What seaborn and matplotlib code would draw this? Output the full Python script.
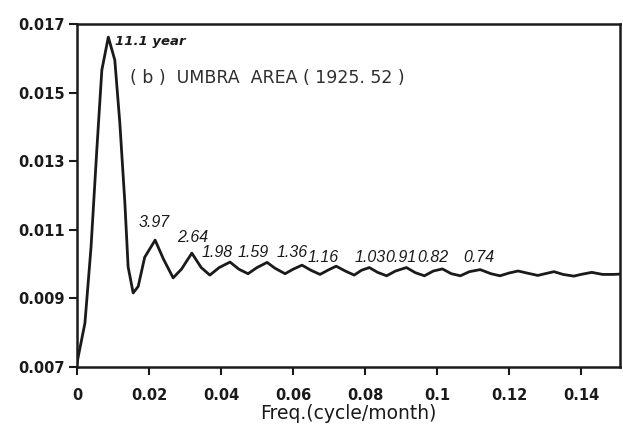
import matplotlib
matplotlib.use("Agg")
import matplotlib.pyplot as plt
import seaborn as sns
import pandas as pd
from matplotlib.ticker import FixedLocator, FixedFormatter

sns.set_theme(style="ticks")
plt.rcParams['font.family'] = ['DejaVu Sans']

freq = [0.0000, 0.0022, 0.0039, 0.0055, 0.0069, 0.0087, 0.0105, 0.0119, 0.0133, 0.0142,
        0.0156, 0.0170, 0.0188, 0.0217, 0.0240, 0.0267, 0.0290, 0.0319, 0.0345, 0.0369,
        0.0395, 0.0425, 0.0450, 0.0475, 0.0500, 0.0528, 0.0550, 0.0578, 0.0600, 0.0625,
        0.0650, 0.0675, 0.0700, 0.0720, 0.0745, 0.0770, 0.0790, 0.0812, 0.0835, 0.0860,
        0.0885, 0.0915, 0.0940, 0.0965, 0.0990, 0.1015, 0.1040, 0.1065, 0.1090, 0.1120,
        0.1150, 0.1175, 0.1200, 0.1225, 0.1250, 0.1280, 0.1300, 0.1325, 0.1350, 0.1380,
        0.1400, 0.1430, 0.1460, 0.1490, 0.1510]
power = [0.00712, 0.00828, 0.01050, 0.01333, 0.01566, 0.01662, 0.01595, 0.01411, 0.01178, 0.00992,
         0.00916, 0.00935, 0.01020, 0.01070, 0.01015, 0.00960, 0.00985, 0.01032, 0.00990, 0.00968,
         0.00990, 0.01006, 0.00985, 0.00972, 0.00990, 0.01005, 0.00988, 0.00972, 0.00985, 0.00997,
         0.00982, 0.00970, 0.00984, 0.00994, 0.00980, 0.00968, 0.00982, 0.00990, 0.00976, 0.00966,
         0.00980, 0.00990, 0.00975, 0.00966, 0.00980, 0.00986, 0.00972, 0.00966, 0.00978, 0.00984,
         0.00972, 0.00966, 0.00974, 0.00980, 0.00974, 0.00967, 0.00972, 0.00978, 0.00970, 0.00965,
         0.00970, 0.00976, 0.00970, 0.00970, 0.00971]

period_labels = ["3.97", "2.64", "1.98", "1.59", "1.36", "1.16", "1.03", "0.91", "0.82", "0.74"]
period_x = [0.0170, 0.0278, 0.0347, 0.0447, 0.0555, 0.0641, 0.0772, 0.0855, 0.0945, 0.1072]
period_y = [0.01122, 0.01077, 0.01035, 0.01035, 0.01035, 0.01020, 0.01020, 0.01020, 0.01020, 0.01020]

peak_label = "11.1 year"
title_text = "( b )  UMBRA  AREA ( 1925. 52 )"

xticks = [0, 0.02, 0.04, 0.06, 0.08, 0.1, 0.12, 0.14]
xtick_labels = ["0", "0.02", "0.04", "0.06", "0.08", "0.1", "0.12", "0.14"]
yticks = [0.007, 0.009, 0.011, 0.013, 0.015, 0.017]
ytick_labels = ["0.007", "0.009", "0.011", "0.013", "0.015", "0.017"]
xlabel = "Freq.(cycle/month)"

df = pd.DataFrame({"freq": freq, "power": power})

fig = plt.figure(figsize=(6.23, 4.30), dpi=100)
ax = fig.add_axes([0.1236, 0.1465, 0.8714, 0.7975])
sns.lineplot(data=df, x="freq", y="power", color="#1a1a1a", linewidth=2.0, ax=ax)

ax.set_xlim(0, 0.1508)
ax.set_ylim(0.007, 0.017)
ax.xaxis.set_major_locator(FixedLocator(xticks))
ax.xaxis.set_major_formatter(FixedFormatter(xtick_labels))
ax.yaxis.set_major_locator(FixedLocator(yticks))
ax.yaxis.set_major_formatter(FixedFormatter(ytick_labels))
ax.tick_params(axis="both", direction="out", length=6, width=1.5, color="#1a1a1a",
               labelsize=10.5, labelcolor="#1a1a1a")
ax.tick_params(axis="x", pad=9)
ax.tick_params(axis="y", pad=3)
for lab in ax.get_xticklabels() + ax.get_yticklabels():
    lab.set_fontweight("bold")
for s in ax.spines.values():
    s.set_visible(True)
    s.set_linewidth(1.8)
    s.set_color("#1a1a1a")

ax.set_xlabel(xlabel, fontsize=13.5, color="#1a1a1a", labelpad=1)
ax.set_ylabel("")

ax.text(0.0105, 0.01648, peak_label, fontsize=9.5, fontstyle="italic", fontweight="bold",
        color="#1a1a1a", va="center", ha="left")
ax.text(0.0148, 0.01543, title_text, fontsize=12.5, color="#2e2e2e", va="center", ha="left")

for lab, px, py in zip(period_labels, period_x, period_y):
    ax.text(px, py, lab, fontsize=11.5, fontstyle="italic", color="#1a1a1a",
            family="Liberation Sans", va="center", ha="left")

fig.savefig("out.png", dpi=100)
